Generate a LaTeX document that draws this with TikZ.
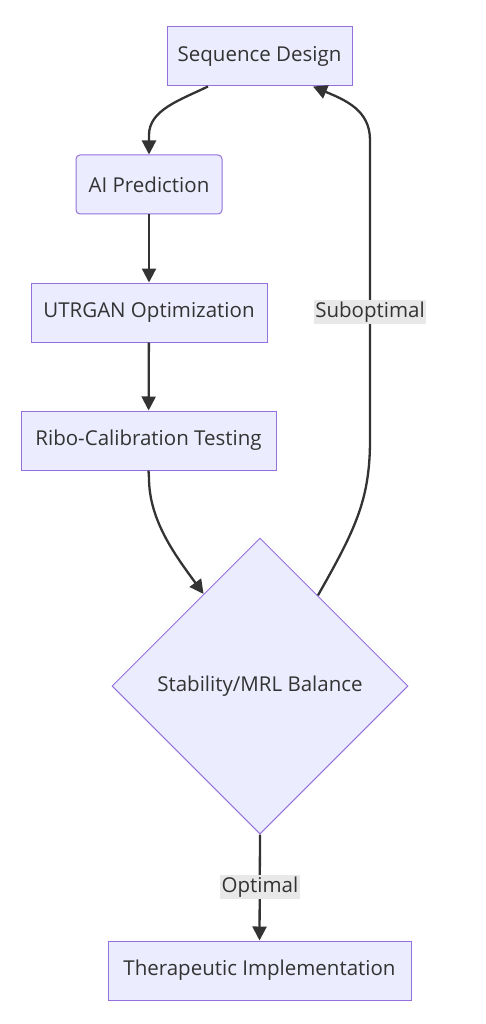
\documentclass[tikz,border=0pt]{standalone}
\usepackage{fontspec}
\setmainfont{Open Sans}
\usetikzlibrary{shapes.geometric,arrows.meta,calc}
\definecolor{nodefill}{HTML}{ECECFF}
\definecolor{nodeline}{HTML}{9370DB}
\definecolor{edgecol}{HTML}{333333}
\definecolor{lblbg}{HTML}{E8E8E8}
\definecolor{txt}{HTML}{333333}
\begin{document}
\begin{tikzpicture}[x=1pt,y=-1pt,
  box/.style={draw=nodeline,fill=nodefill,line width=1pt,minimum height=59pt,inner sep=0pt,text=txt,font=\fontsize{20.5}{22}\selectfont},
  dia/.style={diamond,draw=nodeline,fill=nodefill,line width=1pt,minimum width=296pt,minimum height=296pt,inner sep=0pt,aspect=1,text=txt,font=\fontsize{20.5}{22}\selectfont},
  edge/.style={draw=edgecol,line width=2.3pt,-{Triangle[length=14pt,width=14pt]}},
  lbl/.style={fill=lblbg,inner sep=1.5pt,text=txt,font=\fontsize{20.5}{22}\selectfont}]
\useasboundingbox (0,0) rectangle (486,1024);
\fill[white] (0,0) rectangle (486,1024);
\node[box,minimum width=185pt] (seq) at (259.5,56.5) {Sequence Design};
\node[box,minimum width=146pt,rounded corners=4pt] (ai) at (149,184.5) {AI Prediction};
\node[box,minimum width=236pt] (utr) at (149,312.5) {UTRGAN Optimization};
\node[box,minimum width=255pt] (ribo) at (148.5,440.5) {Ribo-Calibration Testing};
\node[dia] (bal) at (260,686) {Stability/MRL Balance};
\node[box,minimum width=303pt] (ther) at (259.5,970.5) {Therapeutic Implementation};
% edges
\coordinate (s1) at ($(seq.south)+(-51.5,0)$);
\draw[edge] (s1) .. controls (180,100) and (149,110) .. (149,135) -- (ai.north);
\draw[edge] (ai) -- (utr);
\draw[edge] (utr) -- (ribo);
\coordinate (b1) at ($(bal.north)!0.38!(bal.west)$);
\draw[edge] (ribo.south) -- (149,478) .. controls (149,520) and (175,555) .. (b1);
\coordinate (b2) at ($(bal.north)!0.39!(bal.east)$);
\coordinate (s2) at ($(seq.south)+(53.5,0)$);
\draw[edge] (b2) .. controls (355,530) and (370,500) .. (370,440) -- (370,140) .. controls (370,110) and (345,100) .. (s2);
\draw[edge] (bal.south) -- (ther.north);
\node[lbl] (sub) at (370,312) {Suboptimal};
\node[lbl] (opt) at (260,887) {Optimal};
\end{tikzpicture}
\end{document}
